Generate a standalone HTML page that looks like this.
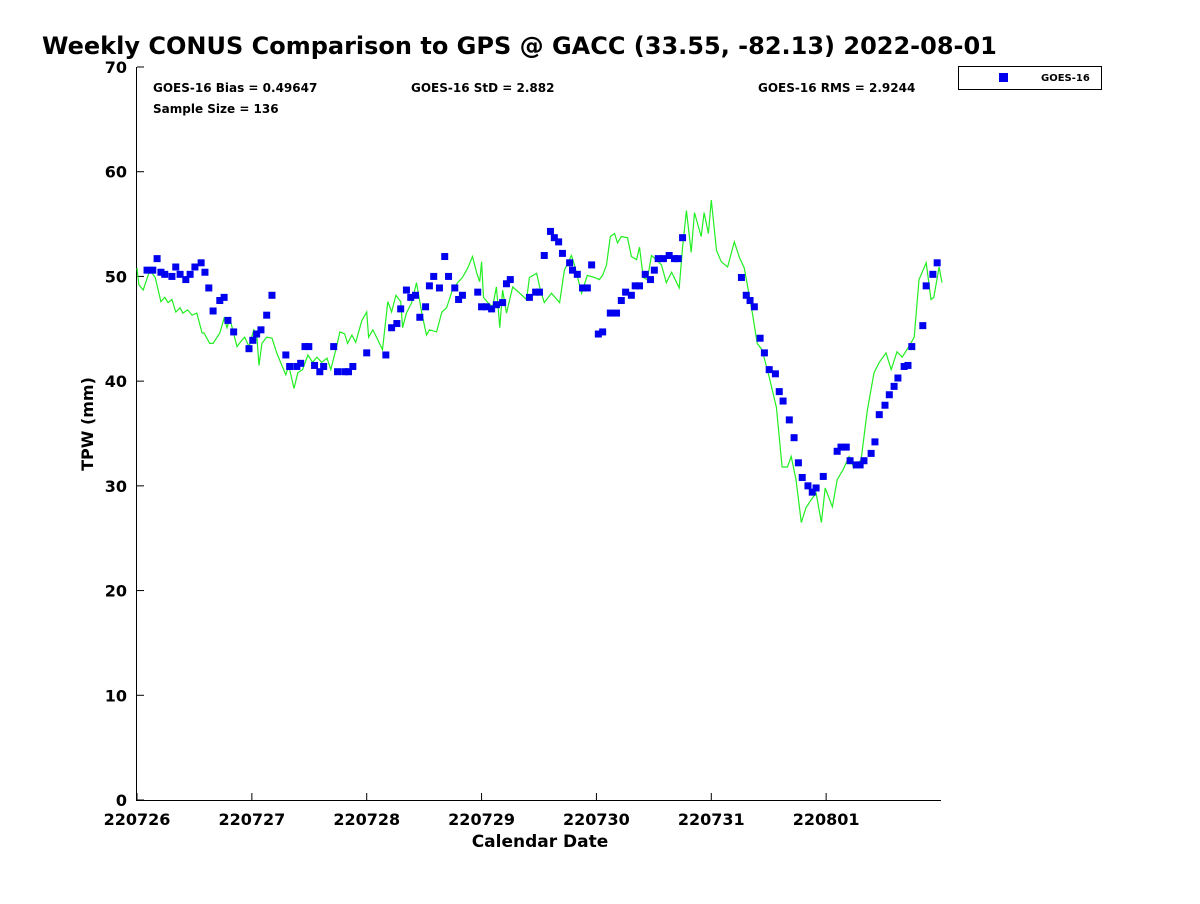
<!DOCTYPE html>
<html><head><meta charset="utf-8"><style>
body{margin:0;background:#fff;font-family:"DejaVu Sans","Liberation Sans",sans-serif;}
svg text{font-family:"DejaVu Sans","Liberation Sans",sans-serif;font-weight:bold;fill:#000;}
</style></head><body>
<svg width="1200" height="900" xmlns="http://www.w3.org/2000/svg">
<rect width="1200" height="900" fill="#fff"/>
<text x="42" y="54" font-size="24">Weekly CONUS Comparison to GPS @ GACC (33.55, -82.13) 2022-08-01</text>
<g id="stats" font-size="12">
<text x="153" y="92">GOES-16 Bias = 0.49647</text>
<text x="411" y="92">GOES-16 StD = 2.882</text>
<text x="758" y="92">GOES-16 RMS = 2.9244</text>
<text x="153" y="113">Sample Size = 136</text>
</g>
<g id="axes"></g>
<g id="line"></g>
<g id="pts"></g>
<g>
<rect x="958.5" y="66.5" width="143" height="23" fill="#fff" stroke="#000" stroke-width="1"/>
<rect x="999" y="73" width="9" height="9" fill="#0000ee"/>
<text x="1041" y="81" font-size="10">GOES-16</text>
</g>
<text x="540" y="847" font-size="17" text-anchor="middle">Calendar Date</text>
<text transform="translate(93,424) rotate(-90)" font-size="16" text-anchor="middle">TPW (mm)</text>
</svg>
<script>
const xTickLabels=["220726","220727","220728","220729","220730","220731","220801"];
const yTicks=[0,10,20,30,40,50,60,70];
const gpsHours=[0,0.4,1.3,2.7,3.8,5.0,5.8,6.5,7.3,8.1,9.0,9.6,10.6,11.5,12.5,13.6,14.0,15.2,15.9,17.3,18.2,18.8,19.4,20.9,21.9,22.5,23.4,24.4,25.0,25.5,26.1,27.1,28.2,29.2,31.1,31.7,32.8,33.6,34.6,35.7,36.7,37.6,38.6,39.7,40.5,41.7,42.4,43.4,44.0,44.9,45.7,47.0,48.0,48.4,49.3,51.3,52.4,53.2,54.1,55.1,55.5,56.3,57.4,58.4,59.5,60.5,61.1,62.6,63.7,64.7,65.9,67.0,68.0,69.1,70.1,71.0,71.6,72.0,72.4,73.3,74.3,75.1,75.8,76.4,77.2,78.5,81.4,82.0,83.5,84.3,85.1,86.6,88.3,89.3,90.8,91.4,92.9,94.1,95.6,96.6,97.3,98.1,98.9,99.8,100.4,101.2,102.5,103.3,104.4,105.0,105.8,106.6,107.5,108.5,109.6,110.6,111.7,113.3,114.0,114.8,115.8,116.5,117.9,118.5,119.4,120.0,121.1,122.1,123.4,124.8,125.9,126.9,128.6,129.6,130.6,132.1,133.6,134.8,135.9,136.7,137.7,138.8,139.8,140.9,141.9,143.0,143.8,145.3,146.3,147.5,148.8,149.8,151.3,152.6,154.0,155.1,156.5,157.6,158.8,159.9,161.3,162.4,163.4,164.9,165.9,166.5,167.6,168.2];
const gpsTPW=[50.8,49.2,48.7,50.6,49.9,47.6,48.0,47.5,47.8,46.6,47.0,46.5,46.8,46.3,46.5,44.6,44.6,43.6,43.6,44.6,46.0,45.1,46.0,43.3,43.9,44.2,43.3,44.9,44.6,41.5,43.6,44.2,44.1,42.7,40.6,41.5,39.3,40.8,41.1,42.5,41.8,42.3,41.8,42.2,41.1,43.3,44.7,44.5,43.6,44.4,43.7,45.8,46.6,44.2,44.9,43.0,47.6,46.6,48.2,47.6,45.1,46.5,47.5,49.4,46.5,44.4,44.9,44.7,46.6,47.0,48.7,49.4,49.9,50.8,51.9,50.3,49.5,51.4,48.0,47.5,47.1,49.0,45.1,48.7,46.5,49.0,47.8,49.9,50.3,48.7,47.5,48.4,47.5,50.6,52.0,51.1,48.4,50.1,49.9,49.7,50.1,51.1,53.8,54.1,53.2,53.8,53.7,51.9,51.6,52.8,49.9,49.7,52.0,51.6,51.1,49.4,50.4,48.9,52.8,56.3,52.3,56.1,53.8,56.1,54.1,57.3,52.5,51.4,50.9,53.3,51.8,50.8,46.5,43.6,43.0,40.4,37.5,31.8,31.8,32.8,30.6,26.5,27.9,28.7,29.3,26.5,29.8,28.0,30.6,31.5,32.8,31.7,32.5,37.2,40.8,41.8,42.7,41.1,42.8,42.3,43.3,44.2,49.7,51.3,47.8,48.0,50.9,49.4];
const goesHours=[2.1,3.3,4.2,5.0,5.8,7.3,8.1,9.0,10.2,11.1,12.1,13.4,14.2,15.0,15.9,17.3,18.2,19.0,20.2,23.4,24.2,25.0,25.9,27.1,28.2,31.1,31.9,33.4,34.2,35.1,35.9,37.1,38.2,39.0,41.1,41.9,43.4,44.2,45.1,48.0,52.0,53.2,54.3,55.1,56.3,57.2,58.2,59.1,60.3,61.1,62.0,63.2,64.3,65.1,66.4,67.2,68.0,71.2,72.0,73.0,74.1,75.1,76.4,77.2,78.0,82.0,83.3,84.1,85.1,86.4,87.2,88.1,88.9,90.4,91.0,92.0,93.1,94.1,95.0,96.4,97.3,98.9,100.2,101.2,102.1,103.3,104.1,105.0,106.2,107.3,108.1,108.9,110.0,111.2,112.3,113.1,114.0,126.3,127.3,128.1,129.0,130.2,131.1,132.1,133.4,134.2,135.0,136.3,137.3,138.2,139.0,140.2,141.1,141.9,143.4,146.3,147.1,148.2,149.0,150.3,151.1,151.9,153.4,154.2,155.1,156.3,157.2,158.2,159.0,160.3,161.1,161.9,164.2,164.9,166.3,167.2];
const goesTPW=[50.6,50.6,51.7,50.4,50.2,50.0,50.9,50.2,49.7,50.2,50.9,51.3,50.4,48.9,46.7,47.7,48.0,45.8,44.7,43.1,43.9,44.5,44.9,46.3,48.2,42.5,41.4,41.4,41.7,43.3,43.3,41.5,40.9,41.4,43.3,40.9,40.9,40.9,41.4,42.7,42.5,45.1,45.5,46.9,48.7,48.0,48.2,46.1,47.1,49.1,50.0,48.9,51.9,50.0,48.9,47.8,48.2,48.5,47.1,47.1,46.9,47.3,47.5,49.3,49.7,48.0,48.5,48.5,52.0,54.3,53.7,53.3,52.2,51.3,50.6,50.2,48.9,48.9,51.1,44.5,44.7,46.5,46.5,47.7,48.5,48.2,49.1,49.1,50.2,49.7,50.6,51.7,51.7,52.0,51.7,51.7,53.7,49.9,48.2,47.7,47.1,44.1,42.7,41.1,40.7,39.0,38.1,36.3,34.6,32.2,30.8,30.0,29.4,29.8,30.9,33.3,33.7,33.7,32.4,32.0,32.0,32.4,33.1,34.2,36.8,37.7,38.7,39.5,40.3,41.4,41.5,43.3,45.3,49.1,50.2,51.3];
const X0=137,X1=941,Y0=800,Y1=67,HMAX=168,VMAX=70;
function xs(h){return X0+(X1-X0)*h/HMAX;}
function ys(v){return Y0-(Y0-Y1)*v/VMAX;}
const NS="http://www.w3.org/2000/svg";
function mk(t,a,p){const e=document.createElementNS(NS,t);for(const k in a)e.setAttribute(k,a[k]);p.appendChild(e);return e;}
const ax=document.getElementById('axes');
const yl=mk('line',{x1:136.5,y1:Y1,x2:136.5,y2:Y0+0.5,stroke:'#000','stroke-width':1},ax);


const xl=mk('line',{x1:136,y1:Y0+0.5,x2:X1,y2:Y0+0.5,stroke:'#000','stroke-width':1},ax);


yTicks.forEach(v=>{const y=ys(v);
mk('line',{x1:137,y1:y,x2:144,y2:y,stroke:'#000'},ax);
const t=mk('text',{x:127,y:y+6,'font-size':16,'text-anchor':'end'},ax);t.textContent=v;

});
xTickLabels.forEach((s,i)=>{const x=xs(i*24);
mk('line',{x1:x,y1:Y0,x2:x,y2:Y0-7,stroke:'#000'},ax);
const t=mk('text',{x:x,y:825,'font-size':16,'text-anchor':'middle'},ax);t.textContent=s;

});
const pl=mk('polyline',{points:gpsHours.map((h,i)=>xs(h).toFixed(1)+','+ys(gpsTPW[i]).toFixed(1)).join(' '),fill:'none',stroke:'#22ee22','stroke-width':1.2},document.getElementById('line'));


const pg=document.getElementById('pts');
goesHours.forEach((h,i)=>{const r=mk('rect',{x:xs(h)-3.5,y:ys(goesTPW[i])-3.5,width:7,height:7,fill:'#0000ee'},pg);

});
</script>
</body></html>
